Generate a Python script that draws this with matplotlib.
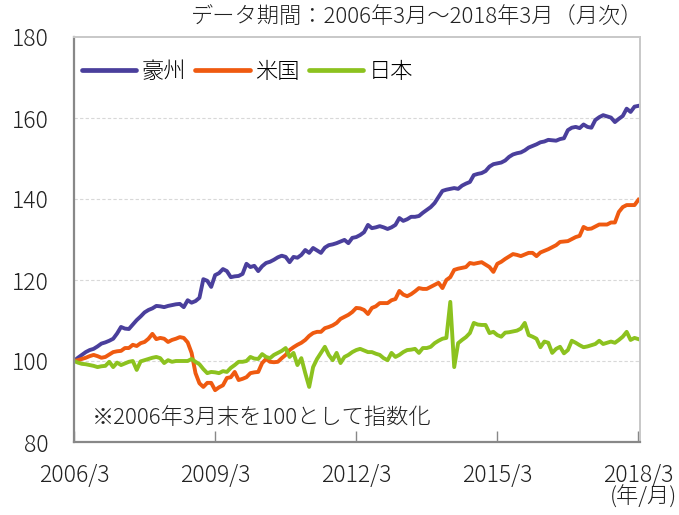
import numpy as np
import matplotlib
matplotlib.use("Agg")
import matplotlib.pyplot as plt

plt.rcParams['font.family'] = ['Noto Sans CJK JP', 'DejaVu Sans']
plt.rcParams['font.weight'] = 300

# monthly index, 2006/3 = 100
australia = [
    100.0, 100.8, 101.5, 102.2, 102.7, 103.0, 103.6, 104.3, 104.6, 105.0,
    105.5, 106.8, 108.4, 108.0, 107.9, 109.0, 110.1, 111.0, 112.0, 112.6,
    113.0, 113.6, 113.5, 113.3, 113.6, 113.8, 114.0, 114.1, 113.3, 115.0,
    114.4, 114.8, 115.6, 120.2, 119.8, 118.3, 121.2, 121.7, 122.7, 122.2,
    120.7, 120.9, 121.0, 121.5, 124.0, 123.2, 123.5, 122.2, 123.4, 124.2,
    124.5, 125.0, 125.6, 126.0, 125.7, 124.4, 125.7, 125.5, 126.2, 127.4,
    126.7, 127.9, 127.3, 126.7, 128.0, 128.6, 128.8, 129.1, 129.5, 129.9,
    129.1, 130.4, 130.6, 131.1, 131.8, 133.6, 132.8, 133.0, 133.3, 133.0,
    132.6, 133.0, 133.6, 135.3, 134.6, 135.0, 135.6, 135.6, 135.8, 136.6,
    137.3, 138.0, 139.0, 140.5, 142.0, 142.3, 142.5, 142.7, 142.5, 143.3,
    143.8, 144.2, 145.9, 146.2, 146.4, 146.9, 148.0, 148.6, 148.8, 149.0,
    149.5, 150.4, 151.0, 151.3, 151.5, 152.0, 152.7, 153.1, 153.5, 154.0,
    154.2, 154.6, 154.5, 154.4, 154.8, 155.0, 157.0, 157.6, 157.8, 157.5,
    158.4, 157.8, 157.6, 159.5, 160.2, 160.7, 160.4, 160.1, 159.0, 159.8,
    160.5, 162.3, 161.5, 162.8, 163.0,
]
usa = [
    100.0, 100.2, 100.5, 100.8, 101.2, 101.5, 101.2, 100.8, 101.0, 101.6,
    102.2, 102.4, 102.5, 103.2, 103.2, 104.0, 103.7, 104.4, 104.7, 105.5,
    106.7, 105.4, 105.7, 105.5, 104.7, 105.2, 105.5, 105.9, 105.7, 104.6,
    102.0, 97.0, 94.5, 93.6, 94.6, 94.6, 92.8, 93.5, 94.0, 95.8,
    96.0, 97.3, 95.3, 95.6, 96.0, 97.0, 97.2, 97.3, 99.5, 100.5,
    99.8, 99.7, 99.8, 100.7, 101.5, 102.7, 103.4, 104.0, 104.5, 105.2,
    106.2, 106.9, 107.2, 107.2, 108.1, 108.4, 108.8, 109.4, 110.4, 110.9,
    111.4, 112.1, 113.1, 113.0, 112.6, 111.6, 113.1, 113.5, 114.3, 114.3,
    114.3, 115.0, 115.3, 117.3, 116.4, 116.0, 116.5, 117.2, 118.0, 117.8,
    117.8, 118.3, 118.8, 119.3, 118.0, 120.0, 120.7, 122.5, 122.8, 123.0,
    123.2, 124.2, 124.0, 124.2, 124.4, 123.8, 123.2, 122.0, 124.0, 124.5,
    125.2, 125.8, 126.4, 126.2, 125.9, 126.3, 126.7, 126.7, 125.9, 126.8,
    127.2, 127.6, 128.1, 128.6, 129.4, 129.5, 129.6, 130.1, 130.6, 130.9,
    133.1, 132.6, 132.7, 133.2, 133.7, 133.7, 133.7, 134.2, 134.2, 136.8,
    138.0, 138.5, 138.5, 138.5, 139.8,
]
japan = [
    100.0, 99.6, 99.3, 99.2, 99.0, 98.8, 98.5, 98.7, 98.8, 99.8,
    98.5, 99.6, 99.0, 99.4, 99.8, 100.0, 97.8, 99.9, 100.2, 100.5,
    100.8, 101.0, 100.7, 99.5, 100.2, 99.8, 100.0, 100.0, 100.0, 100.0,
    100.5, 99.8, 99.2, 98.0, 97.0, 97.3, 97.2, 97.0, 97.5, 97.3,
    98.3, 99.0, 99.8, 99.8, 100.0, 101.0, 100.6, 100.5, 101.7, 101.0,
    100.7, 101.5, 102.0, 102.5, 103.2, 101.0, 102.0, 99.0, 100.7, 97.0,
    93.6, 98.5, 100.5, 102.0, 103.5, 101.5, 100.2, 102.0, 99.5, 101.0,
    101.5, 102.2, 102.7, 103.0, 102.6, 102.2, 102.2, 101.8, 101.5, 100.7,
    100.2, 102.0, 101.0, 101.5, 102.2, 102.7, 102.8, 103.0, 102.0, 103.2,
    103.2, 103.5, 104.4, 105.0, 105.5, 105.7, 114.6, 98.5, 104.4, 105.2,
    105.9, 106.9, 109.4, 109.0, 108.9, 108.9, 106.9, 107.2, 106.4, 106.0,
    107.0, 107.1, 107.3, 107.5, 108.0, 109.4, 106.4, 106.0, 105.5, 103.4,
    104.8, 104.5, 102.0, 103.0, 103.5, 101.9, 102.7, 105.0, 104.5, 103.9,
    103.4, 103.6, 103.9, 104.2, 105.0, 104.2, 104.5, 104.8, 104.5, 105.2,
    106.0, 107.2, 105.2, 105.7, 105.4,
]
series_names = ['豪州', '米国', '日本']
colors = ['#4a3f9c', '#ef5a10', '#8cc21f']
x_ticks = [0, 36, 72, 108, 144]
x_labels = ['2006/3', '2009/3', '2012/3', '2015/3', '2018/3']
y_ticks = [80, 100, 120, 140, 160, 180]

fig = plt.figure(figsize=(6.79, 5.15), dpi=100)
ax = fig.add_axes([74 / 679, 73 / 515, 566 / 679, 405 / 515])

months = np.arange(len(australia))
for vals, name, c in zip([australia, usa, japan], series_names, colors):
    ax.plot(months, vals, color=c, lw=2.8, label=name, solid_joinstyle='round')

ax.set_xlim(0, 144.4)
ax.set_ylim(80, 180)
ax.set_yticks(y_ticks)
ax.set_xticks(x_ticks)
ax.set_xticklabels(x_labels)
ax.tick_params(axis='y', length=0, pad=18, labelsize=16.5, labelcolor='#222222')
ax.tick_params(axis='x', direction='in', length=8, width=1, color='#888888',
               pad=15, labelsize=16.5, labelcolor='#222222')

for y in [100, 120, 140, 160]:
    ax.axhline(y, color='#d8d8d8', lw=0.8, ls=(0, (3, 2)), zorder=0)

ax.spines['left'].set_color('#888888')
ax.spines['left'].set_linewidth(1.6)
ax.spines['bottom'].set_color('#888888')
ax.spines['bottom'].set_linewidth(1.6)
ax.spines['top'].set_color('#c8c8c8')
ax.spines['top'].set_linewidth(1.4)
ax.spines['right'].set_color('#c8c8c8')
ax.spines['right'].set_linewidth(1.4)

leg = ax.legend(loc='center left', bbox_to_anchor=(0.014, 0.914), ncol=3,
                frameon=False, fontsize=16, handlelength=2.45,
                handletextpad=0.25, columnspacing=0.4, borderpad=0,
                borderaxespad=0)
for h in leg.get_lines():
    h.set_linewidth(3.4)
    h.set_solid_capstyle('round')

fig.text(643 / 679, 1 - 18 / 515, 'データ期間：2006年3月～2018年3月（月次）',
         ha='right', va='center', fontsize=16, color='#222222')
fig.text(92 / 679, 1 - 418 / 515, '※2006年3月末を100として指数化',
         ha='left', va='center', fontsize=16, color='#222222')
fig.text(677 / 679, 1 - 497 / 515, '(年/月)', ha='right', va='center',
         fontsize=16, color='#222222')

fig.savefig('out.png', dpi=100)
